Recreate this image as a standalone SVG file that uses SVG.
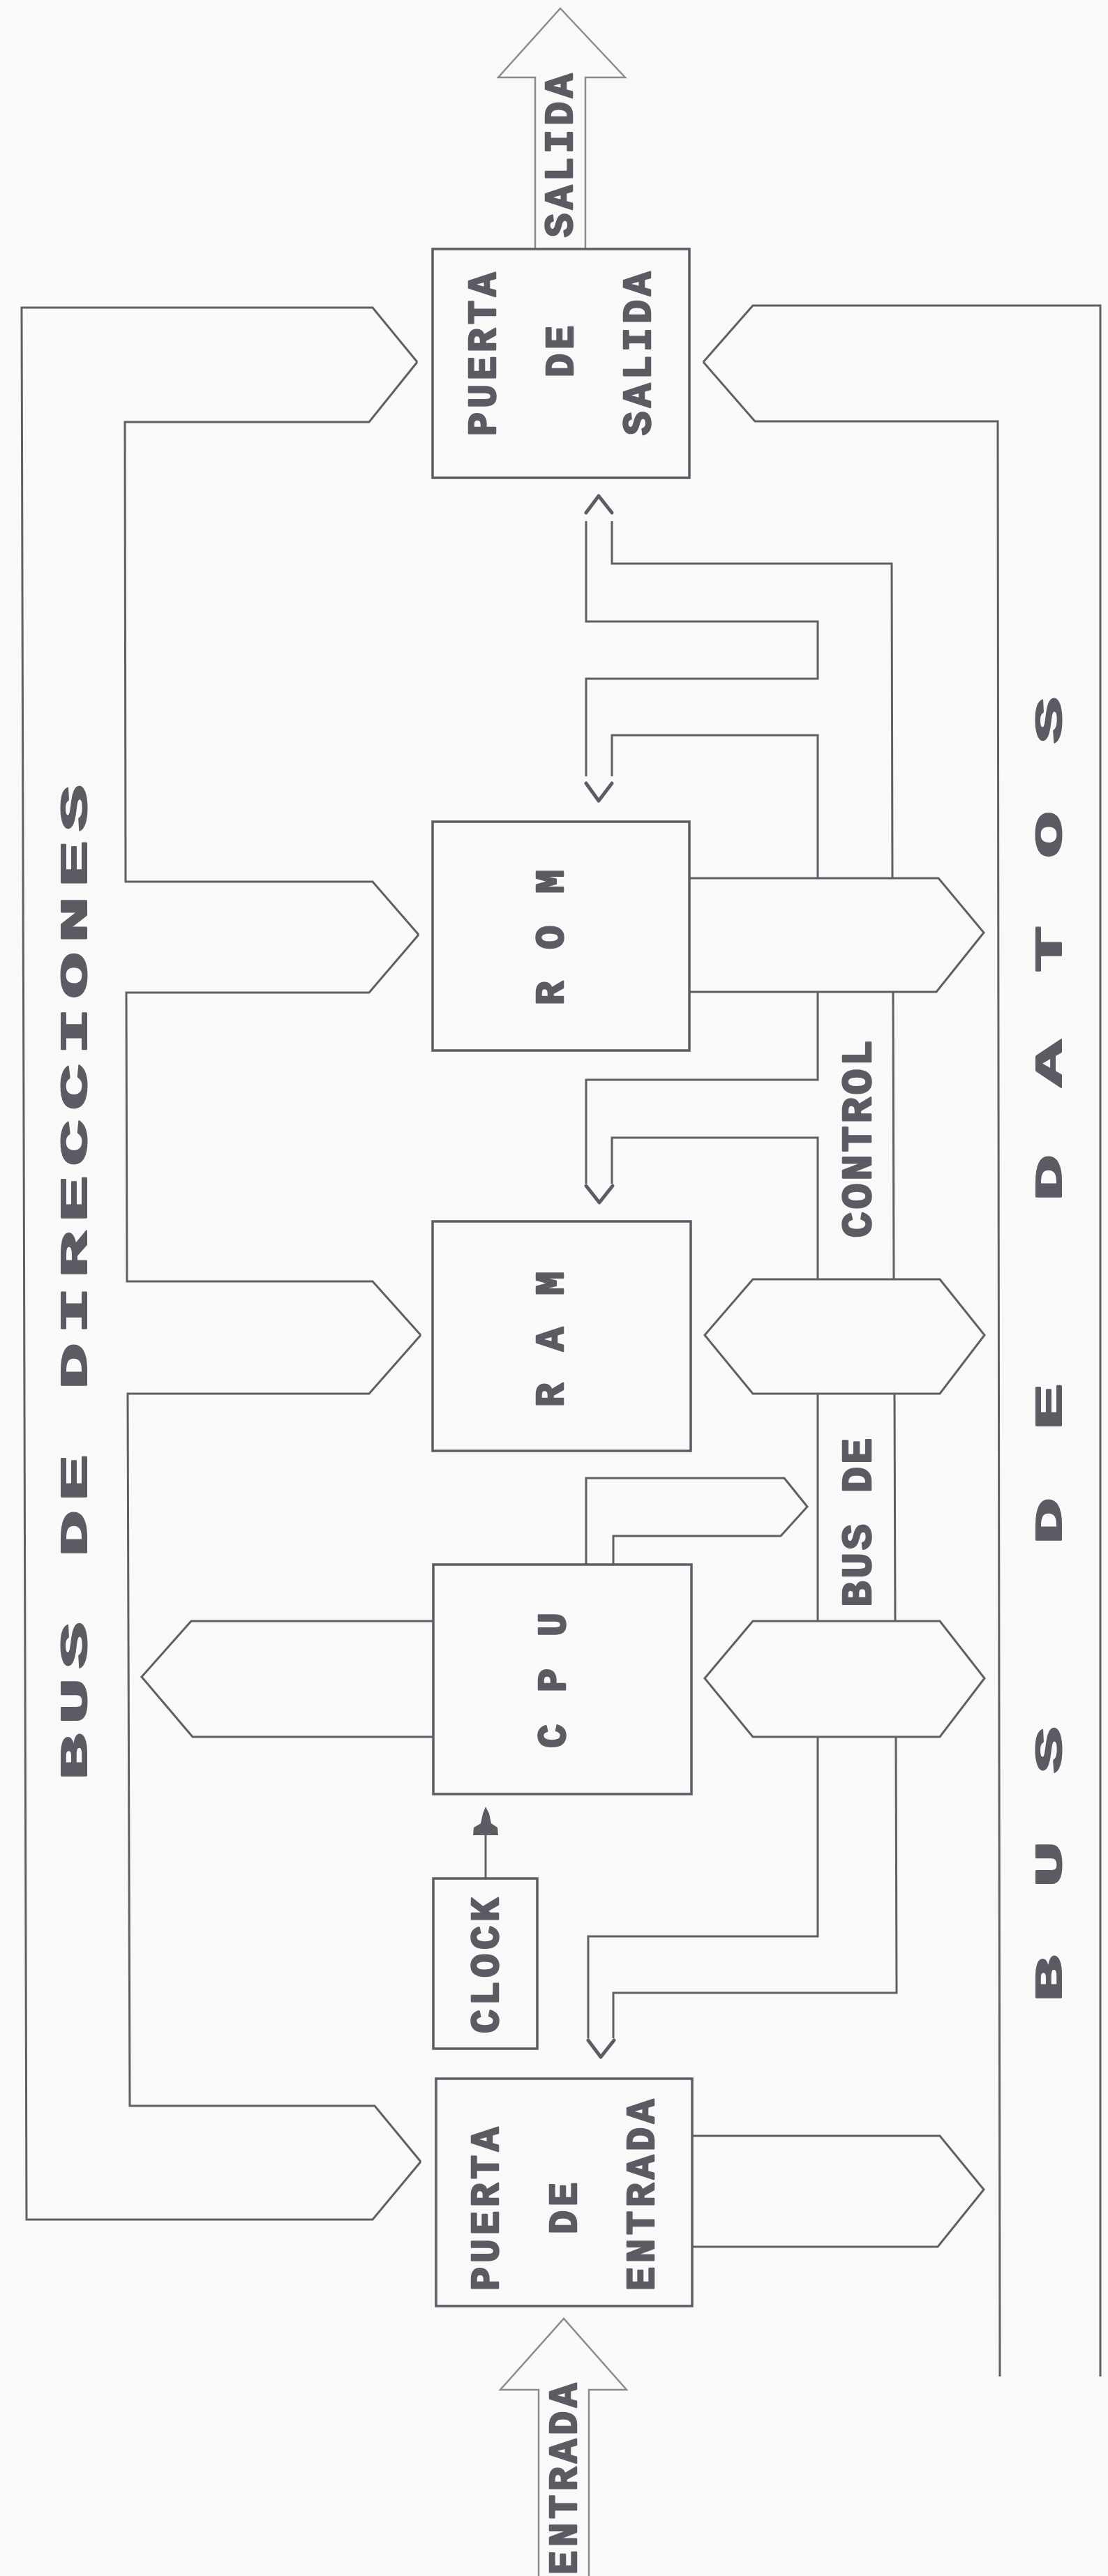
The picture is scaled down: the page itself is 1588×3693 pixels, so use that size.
<svg xmlns="http://www.w3.org/2000/svg" width="1588" height="3693" viewBox="0 0 1588 3693">
<style>
.ln{fill:none;stroke:#615e68;stroke-width:3;stroke-linejoin:miter}
.bx{fill:none;stroke:#5e5b65;stroke-width:3.5}
.big{fill:none;stroke:#8d8b92;stroke-width:2.5;stroke-linejoin:miter}
.cr{fill:none;stroke:#5e5b65;stroke-width:5;stroke-linejoin:round;stroke-linecap:round}
text{font-family:"Liberation Mono","Courier New",monospace;font-weight:bold;fill:#5d5a63;stroke:#5d5a63;stroke-linejoin:round}
.t{font-size:57px;letter-spacing:5.8px;text-anchor:middle;stroke-width:2.5}
.bt{font-size:62px;letter-spacing:3.8px;text-anchor:middle;stroke-width:2.5}
.bus{font-size:53px;text-anchor:start;stroke-width:2}
</style>
<rect x="0" y="0" width="1588" height="3693" fill="#f9f9f9"/>

<g id="connectors">
  <!-- address bus -->
  <path class="ln" d="M598,519 L534,441 L31,441 L38,3182 L534,3182 L603,3099"/>
  <path class="ln" d="M598,519 L529,605 L179,605 L180,1264 L534,1264 L600,1340"/>
  <path class="ln" d="M600,1340 L529,1423 L181,1423 L182,1837 L534,1837 L603,1914"/>
  <path class="ln" d="M603,1914 L529,1998 L183,1998 L186,3019 L537,3019 L603,3099"/>
  <path class="ln" d="M621,2324 L274,2324 L203,2404 L276,2490 L621,2490"/>
  <!-- data bus -->
  <path class="ln" d="M1008,519 L1079,438 L1577,438 L1577,3407"/>
  <path class="ln" d="M1008,519 L1082,604 L1430,604 L1433,3407"/>
  <path class="ln" d="M988,1259 L1345,1259 L1410,1337 L1342,1422 L988,1422"/>
  <path class="ln" d="M1079,1834 L1347,1834 L1411,1914 L1347,1998 L1079,1998 L1010,1914 Z"/>
  <path class="ln" d="M1079,2324 L1347,2324 L1411,2406 L1347,2490 L1079,2490 L1010,2406 Z"/>
  <path class="ln" d="M992,3062 L1347,3062 L1410,3139 L1344,3221 L992,3221"/>
  <!-- control bus -->
  <path class="ln" d="M877,747 L877,808 L1278,808 L1279,1259"/>
  <path class="ln" d="M1280,1422 L1281,1834"/>
  <path class="ln" d="M1282,1998 L1283,2324"/>
  <path class="ln" d="M1284,2490 L1285,2857 L879,2857 L879,2922"/>
  <path class="ln" d="M840,747 L840,891 L1172,891 L1172,973 L840,973 L840,1113"/>
  <path class="ln" d="M877,1113 L877,1054 L1172,1054 L1172,1259"/>
  <path class="ln" d="M1172,1422 L1172,1548 L840,1548 L840,1697"/>
  <path class="ln" d="M877,1697 L877,1631 L1172,1631 L1172,1834"/>
  <path class="ln" d="M1172,1998 L1172,2324"/>
  <path class="ln" d="M1172,2490 L1172,2776 L843,2776 L843,2922"/>
  <path class="ln" d="M840,2243 L840,2119 L1124,2119 L1157,2160 L1119,2202 L879,2202 L879,2243"/>
  <!-- control arrowheads -->
  <path class="cr" d="M840,735 L858,711 L877,735"/>
  <path class="cr" d="M840,1123 L858,1148 L877,1123"/>
  <path class="cr" d="M840,1700 L859,1724 L878,1700"/>
  <path class="cr" d="M843,2925 L861,2949 L880,2925"/>
  <!-- clock arrow -->
  <path class="ln" d="M696,2630 L696,2693"/>
  <path d="M696,2590 L692,2600 L689,2614 L679,2620 L678,2631 L714,2631 L713,2620 L704,2614 L701,2600 Z" fill="#5e5b65"/>
  <!-- input / output arrows -->
  <path class="big" d="M767,357 L767,111 L714,111 L803,12 L896,111 L839,111 L839,357"/>
  <path class="big" d="M772,3693 L772,3426 L717,3426 L808,3324 L898,3426 L844,3426 L844,3693"/>
</g>

<g id="node-puerta-salida">
  <rect class="bx" x="620" y="357" width="368" height="328"/>
  <text class="t" transform="translate(710,505) rotate(-90)">PUERTA</text>
  <text class="t" transform="translate(821,501) rotate(-90)">DE</text>
  <text class="t" transform="translate(932,504) rotate(-90)">SALIDA</text>
</g>
<g id="label-salida">
  <text class="t" transform="translate(820,220) rotate(-90)">SALIDA</text>
</g>
<g id="node-rom">
  <rect class="bx" x="620" y="1178" width="368" height="328"/>
  <text class="t" transform="translate(807,1341) rotate(-90)">R O M</text>
</g>
<g id="node-ram">
  <rect class="bx" x="620" y="1751" width="370" height="329"/>
  <text class="t" transform="translate(807,1917) rotate(-90)">R A M</text>
</g>
<g id="node-cpu">
  <rect class="bx" x="621" y="2243" width="370" height="329"/>
  <text class="t" transform="translate(810,2406) rotate(-90)">C P U</text>
</g>
<g id="node-clock">
  <rect class="bx" x="621" y="2693" width="149" height="244"/>
  <text class="t" transform="translate(714,2815) rotate(-90)">CLOCK</text>
</g>
<g id="node-puerta-entrada">
  <rect class="bx" x="625" y="2980" width="367" height="326"/>
  <text class="t" transform="translate(714,3164) rotate(-90)">PUERTA</text>
  <text class="t" transform="translate(826,3163) rotate(-90)">DE</text>
  <text class="t" transform="translate(937,3144) rotate(-90)">ENTRADA</text>
</g>
<g id="label-entrada">
  <text class="t" transform="translate(826,3551) rotate(-90)">ENTRADA</text>
</g>
<g id="label-bus-control">
  <text class="bt" transform="translate(1248,1631) rotate(-90)">CONTROL</text>
  <text class="bt" transform="translate(1248,2181) rotate(-90)">BUS DE</text>
</g>
<g id="label-bus-direcciones">
  <text class="bus" letter-spacing="6.3" transform="translate(124,2552) rotate(-90) scale(2.1,1)">BUS DE DIRECCIONES</text>
</g>
<g id="label-bus-datos">
  <text class="bus" letter-spacing="46.3" transform="translate(1521,2870) rotate(-90) scale(2.1,1)">BUS DE DATOS</text>
</g>
</svg>
